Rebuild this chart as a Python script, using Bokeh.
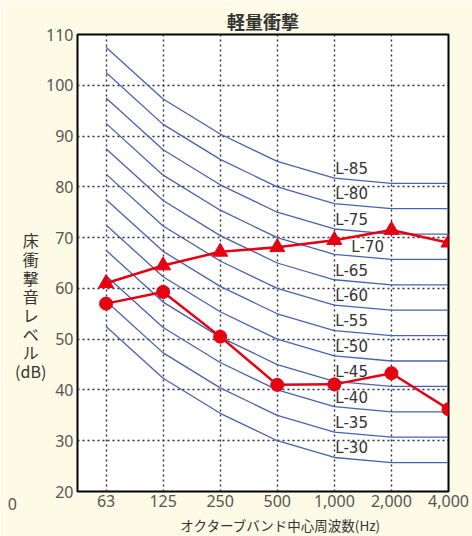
from bokeh.plotting import figure
from bokeh.models import Label, FixedTicker, Range1d
from bokeh.embed import file_html
from bokeh.resources import INLINE

# ---- data ----
bands = ["63", "125", "250", "500", "1,000", "2,000", "4,000"]
y_ticks = [20, 30, 40, 50, 60, 70, 80, 90, 100, 110]
l_numbers = [30, 35, 40, 45, 50, 55, 60, 65, 70, 75, 80, 85]
L30 = [52.5, 42.3, 35.4, 30, 26.7, 25.7, 25.7]
L35 = [57.5, 47.3, 40.4, 35, 31.7, 30.7, 30.7]
L40 = [62.5, 52.3, 45.4, 40, 36.7, 35.7, 35.7]
L45 = [67.5, 57.3, 50.4, 45, 41.7, 40.7, 40.7]
L50 = [72.5, 62.3, 55.4, 50, 46.7, 45.7, 45.7]
L55 = [77.5, 67.3, 60.4, 55, 51.7, 50.7, 50.7]
L60 = [82.5, 72.3, 65.4, 60, 56.7, 55.7, 55.7]
L65 = [87.5, 77.3, 70.4, 65, 61.7, 60.7, 60.7]
L70 = [92.5, 82.3, 75.4, 70, 66.7, 65.7, 65.7]
L75 = [97.5, 87.3, 80.4, 75, 71.7, 70.7, 70.7]
L80 = [102.5, 92.3, 85.4, 80, 76.7, 75.7, 75.7]
L85 = [107.5, 97.3, 90.4, 85, 81.7, 80.7, 80.7]
curves = [L30, L35, L40, L45, L50, L55, L60, L65, L70, L75, L80, L85]
series_triangle = [61.0, 64.5, 67.2, 68.1, 69.5, 71.5, 69.0]
series_circle = [57.0, 59.3, 50.5, 41.0, 41.1, 43.3, 36.2]
title_text = "軽量衝撃"
ylabel_parts = ["床", "衝", "撃", "音", "レ", "ベ", "ル", "(dB)"]
xlabel_text = "オクターブバンド中心周波数(Hz)"

# ---- style ----
CREAM = "#fdfbe6"
BLUE = "#4763ad"
RED = "#e60012"
GRID = "#2b2b45"
TXT = "#555555"
JP = "Noto Sans CJK JP"

x = list(range(len(bands)))

p = figure(width=472, height=536, output_backend="svg", toolbar_location=None,
           x_range=Range1d(-0.5, 6), y_range=Range1d(20, 110),
           min_border_left=77, min_border_right=24, min_border_top=34,
           min_border_bottom=45)
p.background_fill_color = "white"
p.border_fill_color = CREAM
p.outline_line_color = "black"
p.outline_line_width = 2

p.title.text = title_text
p.title.align = "center"
p.title.text_font = JP
p.title.text_font_style = "bold"
p.title.text_font_size = "18px"
p.title.text_color = "#333333"
p.title.standoff = 2

# axes
p.xaxis.ticker = FixedTicker(ticks=x)
p.xaxis.major_label_overrides = {i: b for i, b in zip(x, bands)}
p.yaxis.ticker = FixedTicker(ticks=y_ticks)
for ax in (p.xaxis, p.yaxis):
    ax.axis_line_color = None
    ax.major_tick_line_color = None
    ax.minor_tick_line_color = None
    ax.major_tick_out = 0
    ax.major_tick_in = 0
    ax.minor_tick_out = 0
    ax.major_label_text_font = "Noto Sans"
    ax.major_label_text_font_size = "16px"
    ax.major_label_text_color = TXT
p.xaxis.major_label_standoff = 3
p.yaxis.major_label_standoff = 4

# grid
p.xgrid.ticker = FixedTicker(ticks=x)
p.ygrid.ticker = FixedTicker(ticks=y_ticks)
for g in (p.xgrid, p.ygrid):
    g.grid_line_color = GRID
    g.grid_line_width = 1.4
    g.grid_line_dash = "2 3"

# L curves
for n, vals in zip(l_numbers, curves):
    p.line(x, vals, line_color=BLUE, line_width=1.3)
    if n == 70:
        lab = Label(x=x[4], y=n - 1.9, x_offset=17, text=f"L-{n}")
    else:
        lab = Label(x=x[4], y=n - 1.5, x_offset=1, text=f"L-{n}")
    lab.text_baseline = "middle"
    lab.text_align = "left"
    lab.text_font = "DejaVu Sans"
    lab.text_font_size = "15px"
    lab.text_color = "#333333"
    p.add_layout(lab)

# measured series
p.line(x, series_triangle, line_color=RED, line_width=2.5)
p.scatter(x, series_triangle, marker="triangle", size=15, fill_color=RED, line_color=RED)
p.line(x, series_circle, line_color=RED, line_width=2.5)
p.scatter(x, series_circle, marker="circle", size=13, fill_color=RED, line_color=RED)

# stray "0" at lower left (kept in a side panel so it is not clipped to the frame)
p.add_layout(Label(x=-1.64, y=17.6, text="0", text_align="center",
                   text_baseline="middle", text_font="Noto Sans",
                   text_font_size="16px", text_color=TXT), "right")

# y-axis label (vertical stacked, one multi-line label)
p.add_layout(Label(x=-1.32, y=56.6, text="\n".join(ylabel_parts), text_align="center",
                   text_baseline="middle", text_font=JP, text_line_height=0.78,
                   text_font_size="16px", text_color="#333333"), "left")

# x-axis label
p.add_layout(Label(x=3.06, y=13.5, text=xlabel_text, text_align="center",
                   text_baseline="middle", text_font=JP,
                   text_font_size="13.5px", text_color="#333333"), "below")

open("out.html", "w").write(file_html(p, INLINE))
